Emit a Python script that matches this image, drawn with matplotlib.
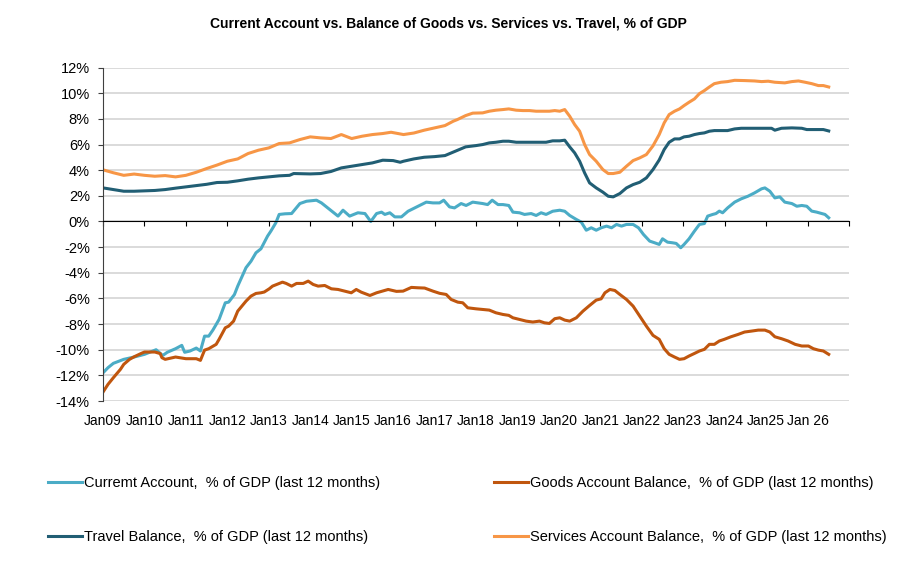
import matplotlib
matplotlib.use("Agg")
import matplotlib.pyplot as plt

plt.rcParams['font.family'] = ['Liberation Sans', 'DejaVu Sans']

# dates as decimal years, values in % of GDP (last 12 months)
ca_t = [2009.00, 2009.12, 2009.25, 2009.50, 2009.75, 2010.00, 2010.28, 2010.44, 2010.55, 2010.75,
        2010.90, 2010.97, 2011.10, 2011.25, 2011.35, 2011.45, 2011.55, 2011.65, 2011.80, 2011.95,
        2012.03, 2012.17, 2012.25, 2012.45, 2012.57, 2012.69, 2012.81, 2012.97, 2013.05, 2013.17,
        2013.25, 2013.39, 2013.55, 2013.75, 2013.91, 2014.15, 2014.27, 2014.67, 2014.79, 2014.95,
        2015.15, 2015.32, 2015.46, 2015.60, 2015.72, 2015.80, 2015.92, 2016.04, 2016.20, 2016.36,
        2016.60, 2016.80, 2016.96, 2017.12, 2017.22, 2017.36, 2017.48, 2017.64, 2017.76, 2017.92,
        2018.16, 2018.28, 2018.39, 2018.53, 2018.65, 2018.79, 2018.89, 2019.05, 2019.17, 2019.33,
        2019.45, 2019.57, 2019.69, 2019.85, 2020.02, 2020.14, 2020.26, 2020.42, 2020.54, 2020.66,
        2020.78, 2020.90, 2021.02, 2021.15, 2021.27, 2021.39, 2021.51, 2021.63, 2021.79, 2021.92,
        2022.04, 2022.19, 2022.31, 2022.42, 2022.50, 2022.62, 2022.74, 2022.83, 2022.94, 2023.02,
        2023.14, 2023.27, 2023.39, 2023.51, 2023.59, 2023.71, 2023.79, 2023.87, 2023.95, 2024.07,
        2024.24, 2024.40, 2024.56, 2024.72, 2024.89, 2024.97, 2025.09, 2025.21, 2025.33, 2025.45,
        2025.62, 2025.74, 2025.86, 2025.98, 2026.10, 2026.22, 2026.34, 2026.42, 2026.51]
ca_v = [-11.8, -11.4, -11.06, -10.75, -10.57, -10.36, -10.0, -10.45, -10.2, -9.92,
        -9.66, -10.2, -10.1, -9.87, -10.1, -8.94, -8.94, -8.47, -7.64, -6.34,
        -6.29, -5.7, -5.04, -3.6, -3.1, -2.44, -2.13, -1.14, -0.75, -0.1,
        0.55, 0.6, 0.62, 1.4, 1.58, 1.66, 1.45, 0.42, 0.88, 0.42,
        0.68, 0.62, 0.0, 0.62, 0.73, 0.55, 0.68, 0.36, 0.36, 0.8,
        1.19, 1.51, 1.45, 1.45, 1.66, 1.14, 1.06, 1.4, 1.25, 1.51,
        1.4, 1.32, 1.66, 1.32, 1.32, 1.25, 0.73, 0.68, 0.55, 0.62,
        0.47, 0.68, 0.55, 0.8, 0.88, 0.8, 0.47, 0.16, -0.05, -0.68,
        -0.49, -0.68, -0.49, -0.36, -0.49, -0.23, -0.36, -0.23, -0.23, -0.49,
        -1.01, -1.53, -1.66, -1.79, -1.35, -1.61, -1.66, -1.71, -2.05, -1.79,
        -1.35, -0.75, -0.23, -0.16, 0.42, 0.55, 0.62, 0.81, 0.68, 1.06,
        1.51, 1.77, 1.97, 2.23, 2.55, 2.62, 2.36, 1.84, 1.92, 1.51,
        1.4, 1.19, 1.25, 1.19, 0.81, 0.73, 0.62, 0.55, 0.29]

goods_t = [2009.00, 2009.12, 2009.25, 2009.42, 2009.50, 2009.64, 2009.75, 2009.92, 2010.00, 2010.25,
           2010.38, 2010.42, 2010.50, 2010.75, 2011.00, 2011.25, 2011.35, 2011.45, 2011.55, 2011.73,
           2011.80, 2011.95, 2012.03, 2012.15, 2012.25, 2012.45, 2012.57, 2012.69, 2012.81, 2012.89,
           2013.01, 2013.09, 2013.33, 2013.42, 2013.55, 2013.67, 2013.83, 2013.95, 2014.07, 2014.19,
           2014.35, 2014.51, 2014.67, 2014.83, 2014.99, 2015.11, 2015.23, 2015.44, 2015.60, 2015.88,
           2016.08, 2016.24, 2016.44, 2016.60, 2016.76, 2016.96, 2017.12, 2017.28, 2017.40, 2017.56,
           2017.68, 2017.80, 2018.00, 2018.16, 2018.32, 2018.48, 2018.65, 2018.79, 2018.89, 2019.05,
           2019.21, 2019.37, 2019.53, 2019.65, 2019.77, 2019.90, 2020.02, 2020.14, 2020.26, 2020.42,
           2020.58, 2020.74, 2020.90, 2021.02, 2021.11, 2021.23, 2021.35, 2021.47, 2021.63, 2021.79,
           2021.95, 2022.11, 2022.27, 2022.42, 2022.54, 2022.66, 2022.79, 2022.91, 2023.02, 2023.14,
           2023.27, 2023.39, 2023.51, 2023.63, 2023.75, 2023.87, 2023.99, 2024.15, 2024.32, 2024.48,
           2024.64, 2024.81, 2024.97, 2025.09, 2025.21, 2025.37, 2025.53, 2025.70, 2025.86, 2026.02,
           2026.14, 2026.26, 2026.38, 2026.51]
goods_v = [-13.3, -12.7, -12.18, -11.53, -11.14, -10.75, -10.55, -10.29, -10.18, -10.18,
           -10.3, -10.62, -10.75, -10.57, -10.7, -10.7, -10.83, -10.03, -9.92, -9.58,
           -9.19, -8.29, -8.16, -7.77, -6.99, -6.21, -5.82, -5.61, -5.56, -5.5,
           -5.25, -5.04, -4.73, -4.83, -5.04, -4.83, -4.83, -4.65, -4.91, -5.04,
           -4.99, -5.25, -5.3, -5.43, -5.56, -5.3, -5.51, -5.77, -5.56, -5.3,
           -5.45, -5.43, -5.14, -5.17, -5.19, -5.43, -5.6, -5.69, -6.08, -6.29,
           -6.34, -6.73, -6.81, -6.86, -6.91, -7.12, -7.25, -7.32, -7.51, -7.64,
           -7.77, -7.84, -7.77, -7.9, -7.95, -7.58, -7.51, -7.69, -7.77, -7.51,
           -6.99, -6.55, -6.13, -6.03, -5.56, -5.3, -5.38, -5.69, -6.08, -6.6,
           -7.38, -8.16, -8.88, -9.19, -9.92, -10.36, -10.57, -10.75, -10.7, -10.49,
           -10.29, -10.1, -9.97, -9.58, -9.58, -9.32, -9.19, -8.99, -8.81, -8.62,
           -8.55, -8.47, -8.47, -8.62, -8.99, -9.14, -9.32, -9.58, -9.71, -9.71,
           -9.92, -10.03, -10.1, -10.36]

travel_t = [2009.00, 2009.25, 2009.50, 2009.75, 2010.00, 2010.25, 2010.50, 2010.75, 2011.00, 2011.25,
            2011.50, 2011.75, 2012.00, 2012.25, 2012.50, 2012.75, 2013.00, 2013.25, 2013.50, 2013.60,
            2014.00, 2014.25, 2014.50, 2014.75, 2015.00, 2015.25, 2015.50, 2015.75, 2016.00, 2016.17,
            2016.25, 2016.50, 2016.75, 2017.00, 2017.25, 2017.50, 2017.75, 2018.00, 2018.16, 2018.32,
            2018.48, 2018.65, 2018.79, 2018.97, 2019.45, 2019.69, 2019.85, 2020.02, 2020.14, 2020.26,
            2020.38, 2020.50, 2020.62, 2020.74, 2020.90, 2021.06, 2021.19, 2021.31, 2021.47, 2021.63,
            2021.79, 2021.95, 2022.11, 2022.27, 2022.42, 2022.54, 2022.66, 2022.79, 2022.91, 2023.02,
            2023.14, 2023.27, 2023.39, 2023.51, 2023.63, 2023.75, 2024.07, 2024.24, 2024.40, 2024.89,
            2025.13, 2025.21, 2025.37, 2025.62, 2025.86, 2025.98, 2026.38, 2026.51]
travel_v = [2.62, 2.49, 2.36, 2.36, 2.39, 2.42, 2.49, 2.6, 2.7, 2.8,
            2.9, 3.04, 3.06, 3.17, 3.3, 3.4, 3.48, 3.56, 3.6, 3.74,
            3.71, 3.74, 3.9, 4.18, 4.31, 4.44, 4.57, 4.78, 4.75, 4.62,
            4.7, 4.88, 5.01, 5.06, 5.14, 5.48, 5.82, 5.92, 6.0, 6.13,
            6.18, 6.26, 6.26, 6.18, 6.18, 6.18, 6.29, 6.29, 6.34, 5.82,
            5.35, 4.7, 3.79, 3.01, 2.62, 2.29, 1.97, 1.92, 2.18, 2.62,
            2.88, 3.06, 3.4, 4.05, 4.8, 5.61, 6.18, 6.44, 6.44, 6.6,
            6.65, 6.78, 6.86, 6.91, 7.04, 7.09, 7.09, 7.22, 7.27, 7.27,
            7.27, 7.12, 7.27, 7.3, 7.27, 7.17, 7.17, 7.06]

services_t = [2009.00, 2009.25, 2009.50, 2009.75, 2010.00, 2010.25, 2010.50, 2010.75, 2011.00, 2011.25,
              2011.50, 2011.75, 2012.00, 2012.25, 2012.50, 2012.75, 2013.00, 2013.25, 2013.50, 2013.75,
              2014.00, 2014.25, 2014.50, 2014.75, 2015.00, 2015.25, 2015.50, 2015.75, 2015.95, 2016.25,
              2016.50, 2016.75, 2017.00, 2017.25, 2017.45, 2017.55, 2017.75, 2017.92, 2018.16, 2018.32,
              2018.48, 2018.65, 2018.79, 2018.97, 2019.13, 2019.29, 2019.45, 2019.77, 2019.90, 2020.02,
              2020.14, 2020.26, 2020.38, 2020.50, 2020.62, 2020.74, 2020.90, 2021.06, 2021.19, 2021.31,
              2021.47, 2021.63, 2021.79, 2021.95, 2022.11, 2022.27, 2022.42, 2022.54, 2022.66, 2022.79,
              2022.91, 2023.02, 2023.14, 2023.27, 2023.39, 2023.51, 2023.63, 2023.75, 2023.91, 2024.07,
              2024.24, 2024.48, 2024.72, 2024.89, 2025.05, 2025.21, 2025.45, 2025.62, 2025.78, 2025.94,
              2026.10, 2026.26, 2026.38, 2026.51]
services_v = [4.03, 3.8, 3.6, 3.7, 3.6, 3.53, 3.58, 3.48, 3.6, 3.84,
              4.13, 4.4, 4.7, 4.88, 5.3, 5.56, 5.74, 6.08, 6.13, 6.39,
              6.6, 6.52, 6.47, 6.78, 6.47, 6.65, 6.78, 6.86, 6.96, 6.78,
              6.9, 7.12, 7.3, 7.48, 7.82, 7.95, 8.26, 8.45, 8.47, 8.6,
              8.68, 8.73, 8.78, 8.68, 8.65, 8.65, 8.6, 8.6, 8.65, 8.6,
              8.73, 8.21, 7.56, 7.04, 6.0, 5.22, 4.7, 4.05, 3.74, 3.74,
              3.84, 4.31, 4.75, 4.96, 5.22, 5.9, 6.78, 7.69, 8.34, 8.6,
              8.78, 9.04, 9.3, 9.56, 9.97, 10.21, 10.49, 10.75, 10.86, 10.91,
              11.01, 10.99, 10.96, 10.91, 10.94, 10.86, 10.81, 10.91, 10.96, 10.86,
              10.75, 10.6, 10.6, 10.49]

years = list(range(2009, 2028))
year_labels = ["Jan%02d" % (y % 100) for y in years[:-2]] + ["Jan 26", ""]
y_ticks = list(range(-14, 13, 2))

fig = plt.figure(figsize=(9.15, 5.88), dpi=100)
ax = fig.add_axes([0.1126, 0.318, 0.8153, 0.567])

l_ca, = ax.plot(ca_t, ca_v, color='#4BACC6', lw=2.2,
                label='Curremt Account,  % of GDP (last 12 months)')
l_goods, = ax.plot(goods_t, goods_v, color='#C0560E', lw=2.2,
                   label='Goods Account Balance,  % of GDP (last 12 months)')
l_travel, = ax.plot(travel_t, travel_v, color='#215E74', lw=2.2,
                    label='Travel Balance,  % of GDP (last 12 months)')
l_serv, = ax.plot(services_t, services_v, color='#F79646', lw=2.2,
                  label='Services Account Balance,  % of GDP (last 12 months)')

ax.set_xlim(2009, 2027)
ax.set_ylim(-14, 12)
ax.set_yticks(y_ticks)
ax.set_yticklabels(["%d%%" % v for v in y_ticks], fontsize=10.5)
ax.yaxis.grid(True, color='#D4D4D4', lw=1.2)
ax.set_axisbelow(True)

for s in ['top', 'right']:
    ax.spines[s].set_visible(False)
ax.spines['left'].set_color('#404040')
ax.spines['bottom'].set_position(('data', 0))
ax.spines['bottom'].set_color('black')
ax.set_xticks(years)
ax.tick_params(axis='x', direction='out', length=3.5, color='black', labelbottom=False)
ax.tick_params(axis='y', direction='out', length=3.5, color='#404040', pad=6)

# month labels sit below the plot, ticks stay on the zero line
sec = ax.secondary_xaxis(0)
sec.set_xticks(years, year_labels, fontsize=10)
sec.tick_params(length=0, pad=9)
sec.spines['bottom'].set_visible(False)

fig.text(0.49, 0.96, "Current Account vs. Balance of Goods vs. Services vs. Travel, % of GDP",
         ha='center', va='center', fontsize=10, fontweight='bold')

leg_kw = dict(loc='upper left', frameon=False, fontsize=10.5, handlelength=2.3,
              handletextpad=0.15, labelspacing=2.75, borderpad=0, borderaxespad=0)
fig.legend(handles=[l_ca, l_travel], bbox_to_anchor=(48 / 915, 1 - 476 / 588), **leg_kw)
fig.legend(handles=[l_goods, l_serv], bbox_to_anchor=(494 / 915, 1 - 476 / 588), **leg_kw)

fig.savefig("out.png", dpi=100)
